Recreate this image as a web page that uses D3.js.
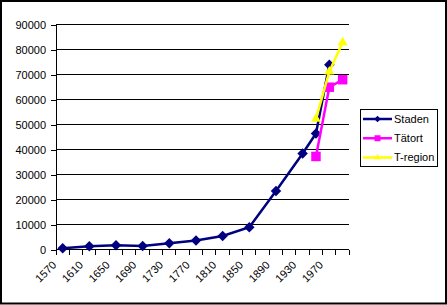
<!DOCTYPE html>
<html>
<head>
<meta charset="utf-8">
<script src="https://cdn.jsdelivr.net/npm/d3@7"></script>
<style>
  body { margin:0; background:#fff; }
  svg text { font-family: "Liberation Sans", Arial, sans-serif; font-size:11px; fill:#000; }
</style>
</head>
<body>
<svg id="chart"></svg>
<script>
const width = 447, height = 305;

// categories (20-year steps, every other one labelled)
const years = d3.range(22).map(i => String(1570 + i*20));
const yTicks = [0,10000,20000,30000,40000,50000,60000,70000,80000,90000];

// series values, null = no point in that category
const staden  = [600,null,1400,null,1800,null,1500,null,2600,null,3700,null,5500,null,9000,null,23500,null,38500,46500,74000,null];
const tatort  = [null,null,null,null,null,null,null,null,null,null,null,null,null,null,null,null,null,null,null,37300,65000,68000];
const tregion = [null,null,null,null,null,null,null,null,null,null,null,null,null,null,null,null,null,null,null,52300,71200,82900];

const series = [
  {name:'Staden',   values:staden,  color:'#000080', shape:'diamond'},
  {name:'Tätort',   values:tatort,  color:'#ff00ff', shape:'square'},
  {name:'T-region', values:tregion, color:'#ffff00', shape:'triangle'}
];

const svg = d3.select('#chart').attr('width',width).attr('height',height)

const plot = {left:56, right:349.3, top:24.7, bottom:249.7}

const x = d3.scaleBand().domain(years).range([plot.left, plot.right]).padding(0)
const y = d3.scaleLinear().domain([0,90000]).range([plot.bottom, plot.top])
const cx = d => x(d) + x.bandwidth()/2

// gridlines
svg.append('g').selectAll('line')
  .data(yTicks.filter(d => d > 0))
  .enter().append('line')
    .attr('x1',plot.left).attr('x2',plot.right)
    .attr('y1',d=>y(d)).attr('y2',d=>y(d))
    .attr('stroke','#000').attr('stroke-width',1).attr('shape-rendering','crispEdges')

// y axis
const yAxis = svg.append('g')
  .attr('transform',`translate(${plot.left},0)`)
  .call(d3.axisLeft(y).tickValues(yTicks).tickFormat(d3.format('d')).tickSize(5).tickPadding(5))
yAxis.select('.domain').attr('stroke','#000').attr('shape-rendering','crispEdges')
yAxis.selectAll('.tick line').attr('stroke','#000').attr('shape-rendering','crispEdges')
yAxis.selectAll('text').style('font-family','"Liberation Sans", Arial, sans-serif').style('font-size','11px')

// x axis: line, ticks between categories, rotated labels
const xg = svg.append('g')
xg.append('line')
  .attr('x1',plot.left).attr('x2',plot.right)
  .attr('y1',y(0)).attr('y2',y(0))
  .attr('stroke','#000').attr('shape-rendering','crispEdges')
xg.selectAll('.xtick')
  .data(years.map(d => x(d)).concat([x.range()[1]]))
  .enter().append('line')
    .attr('class','xtick')
    .attr('x1',d=>d).attr('x2',d=>d)
    .attr('y1',y(0)).attr('y2',y(0)+5)
    .attr('stroke','#000').attr('shape-rendering','crispEdges')
xg.selectAll('text')
  .data(years.filter((d,i) => i % 2 === 0))
  .enter().append('text')
    .attr('transform', d => `translate(${cx(d)-5.5},${y(0)+16}) rotate(-45)`)
    .attr('text-anchor','end')
    .text(d => d)

// markers
function marker(sel, shape, color, scale){
  if(shape==='diamond'){
    sel.append('path')
      .attr('d', d3.symbol(d3.symbolSquare, 55*scale)())
      .attr('transform','rotate(45)')
      .attr('fill',color)
  } else if(shape==='square'){
    sel.append('path')
      .attr('d', d3.symbol(d3.symbolSquare, 90*scale)())
      .attr('fill',color)
  } else {
    sel.append('path')
      .attr('d', d3.symbol(d3.symbolTriangle, 42*scale)())
      .attr('fill',color)
  }
}

const line = d3.line().x(d => cx(d.year)).y(d => y(d.value))

series.forEach(s => {
  const pts = years.map((yr,i) => ({year:yr, value:s.values[i]})).filter(d => d.value != null)
  const g = svg.append('g')
  g.append('path')
    .datum(pts)
    .attr('d', line)
    .attr('fill','none')
    .attr('stroke', s.color)
    .attr('stroke-width', 2.5)
  g.selectAll('.m')
    .data(pts)
    .enter().append('g')
      .attr('class','m')
      .attr('transform', d => `translate(${cx(d.year)},${y(d.value)})`)
      .each(function(){ marker(d3.select(this), s.shape, s.color, 1) })
})

// legend
const legend = svg.append('g')
legend.append('rect')
  .attr('x',360.5).attr('y',109.5).attr('width',77).attr('height',57)
  .attr('fill','#fff').attr('stroke','#000').attr('stroke-width',1)
const rowY = d3.scalePoint().domain(series.map(s=>s.name)).range([119,157.5])
series.forEach(s => {
  const ly = rowY(s.name)
  legend.append('line')
    .attr('x1',363).attr('x2',392).attr('y1',ly).attr('y2',ly)
    .attr('stroke',s.color).attr('stroke-width',2.5)
  const mg = legend.append('g').attr('transform',`translate(377.5,${ly})`)
  marker(mg, s.shape, s.color, 0.4)
  legend.append('text')
    .attr('x',394).attr('y',ly).attr('dy','0.36em')
    .text(s.name)
})

// chart border
svg.append('rect')
  .attr('x',1).attr('y',1).attr('width',445).attr('height',302.5)
  .attr('fill','none').attr('stroke','#000').attr('stroke-width',2)
</script>
</body>
</html>
